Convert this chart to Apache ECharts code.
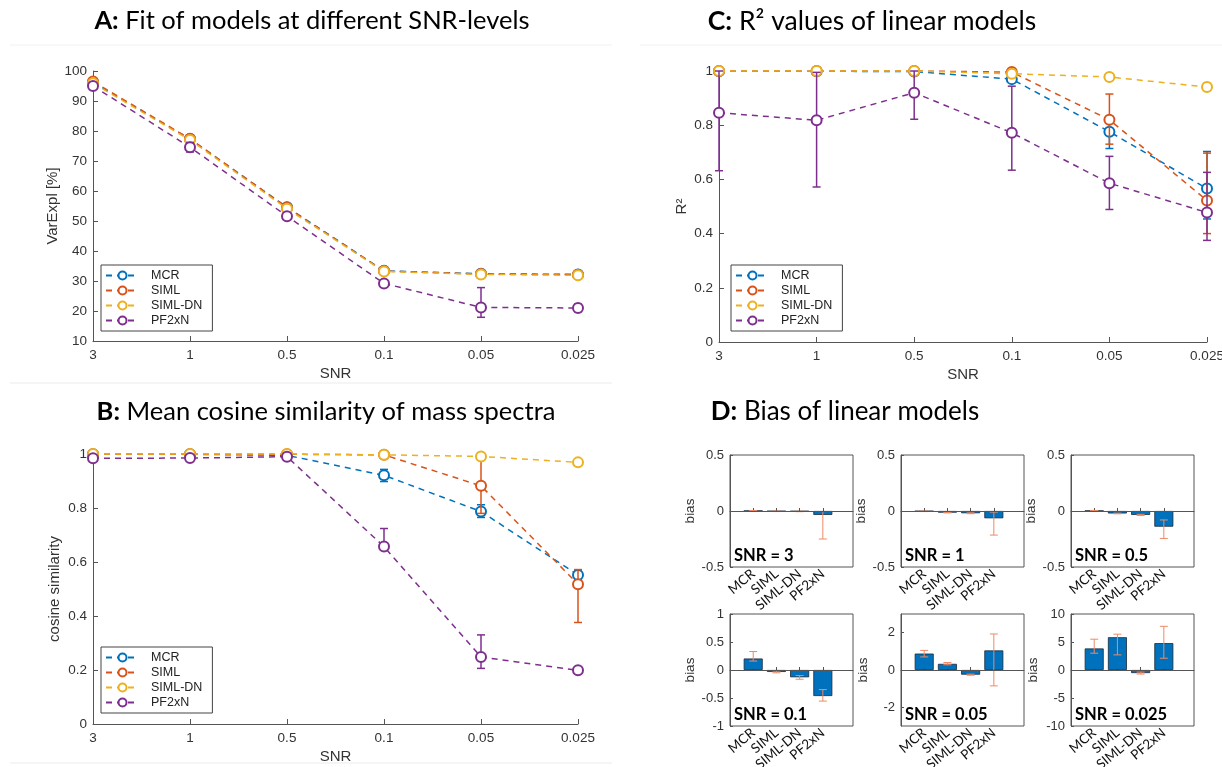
<!DOCTYPE html>
<html><head><meta charset="utf-8">
<script src="https://cdn.jsdelivr.net/npm/echarts@6/dist/echarts.min.js"></script>
<style>html,body{margin:0;padding:0;background:#fff}#c{width:1222px;height:767px}</style>
</head><body><div id="c"></div>
<script>
// ---------- DATA ----------
const snrLabels = ['3', '1', '0.5', '0.1', '0.05', '0.025'];
const modelNames = ['MCR', 'SIML', 'SIML-DN', 'PF2xN'];

// A: VarExpl [%]
const varExplMCR      = [96.2, 77.3, 54.6, 33.4, 32.4, 32.2];
const varExplMCRLow   = [95.8, 76.8, 54.2, 33.0, 32.0, 31.8];
const varExplMCRHigh  = [96.6, 77.8, 55.0, 33.8, 32.8, 32.6];
const varExplSIML     = [96.5, 77.4, 54.5, 33.3, 32.3, 32.1];
const varExplSIMLLow  = [96.1, 77.0, 54.1, 32.9, 31.9, 31.7];
const varExplSIMLHigh = [96.9, 77.8, 54.9, 33.7, 32.7, 32.5];
const varExplSIMLDN     = [95.9, 77.0, 54.1, 33.2, 32.2, 31.9];
const varExplSIMLDNLow  = [95.4, 76.5, 53.6, 32.7, 31.7, 31.4];
const varExplSIMLDNHigh = [96.4, 77.5, 54.6, 33.7, 32.7, 32.4];
const varExplPF2xN     = [95.0, 74.6, 51.6, 29.2, 21.2, 21.0];
const varExplPF2xNLow  = [94.4, 73.0, 50.8, 28.2, 17.9, 19.8];
const varExplPF2xNHigh = [95.6, 76.2, 52.4, 30.3, 27.8, 22.3];

// B: cosine similarity
const cosMCR      = [0.999, 0.999, 0.995, 0.921, 0.787, 0.552];
const cosMCRLow   = [0.997, 0.997, 0.990, 0.898, 0.765, 0.535];
const cosMCRHigh  = [1.000, 1.000, 1.000, 0.943, 0.812, 0.570];
const cosSIML     = [0.999, 0.999, 0.999, 0.997, 0.882, 0.518];
const cosSIMLLow  = [0.998, 0.998, 0.998, 0.994, 0.780, 0.376];
const cosSIMLHigh = [1.000, 1.000, 1.000, 1.000, 0.985, 0.572];
const cosSIMLDN     = [1.000, 1.000, 1.000, 0.997, 0.991, 0.969];
const cosSIMLDNLow  = [0.998, 0.998, 0.998, 0.994, 0.988, 0.964];
const cosSIMLDNHigh = [1.000, 1.000, 1.000, 1.000, 0.994, 0.974];
const cosPF2xN     = [0.984, 0.985, 0.990, 0.657, 0.248, 0.199];
const cosPF2xNLow  = [0.980, 0.981, 0.986, 0.655, 0.206, 0.192];
const cosPF2xNHigh = [0.988, 0.989, 0.994, 0.724, 0.330, 0.206];

// C: R2
const r2MCR      = [0.999, 0.999, 0.998, 0.970, 0.776, 0.566];
const r2MCRLow   = [0.998, 0.998, 0.996, 0.958, 0.714, 0.454];
const r2MCRHigh  = [1.000, 1.000, 1.000, 0.982, 0.832, 0.703];
const r2SIML     = [1.000, 1.000, 1.000, 0.996, 0.820, 0.522];
const r2SIMLLow  = [0.999, 0.999, 0.999, 0.990, 0.730, 0.400];
const r2SIMLHigh = [1.000, 1.000, 1.000, 1.000, 0.915, 0.697];
const r2SIMLDN     = [1.000, 1.000, 1.000, 0.990, 0.978, 0.941];
const r2SIMLDNLow  = [0.999, 0.999, 0.999, 0.986, 0.972, 0.930];
const r2SIMLDNHigh = [1.000, 1.000, 1.000, 0.994, 0.984, 0.955];
const r2PF2xN     = [0.846, 0.818, 0.920, 0.772, 0.586, 0.478];
const r2PF2xNLow  = [0.632, 0.572, 0.822, 0.634, 0.489, 0.375];
const r2PF2xNHigh = [1.000, 0.995, 1.000, 0.944, 0.685, 0.626];

// D: bias per SNR level (MCR, SIML, SIML-DN, PF2xN)
const bias3       = [0.002, -0.003, -0.004, -0.035];
const bias3Low    = [0.000, -0.005, -0.006, -0.250];
const bias3High   = [0.004, -0.001, -0.002, -0.005];
const bias1       = [-0.003, -0.015, -0.020, -0.065];
const bias1Low    = [-0.005, -0.017, -0.024, -0.215];
const bias1High   = [-0.001, -0.013, -0.016, -0.010];
const bias05      = [0.003, -0.022, -0.035, -0.140];
const bias05Low   = [0.001, -0.025, -0.040, -0.245];
const bias05High  = [0.005, -0.019, -0.030, -0.080];
const bias01      = [0.205, -0.035, -0.130, -0.465];
const bias01Low   = [0.160, -0.050, -0.165, -0.555];
const bias01High  = [0.330, -0.020, -0.100, -0.350];
const bias005     = [0.88, 0.33, -0.25, 1.05];
const bias005Low  = [0.70, 0.28, -0.28, -0.85];
const bias005High = [1.05, 0.40, -0.22, 1.93];
const bias0025     = [3.85, 5.85, -0.55, 4.80];
const bias0025Low  = [3.00, 2.70, -0.72, 2.10];
const bias0025High = [5.50, 6.40, -0.38, 7.80];
// D axis limits and tick values
const biasLimits = [0.5, 0.5, 0.5, 1, 3, 10];
const biasTicks = [[-0.5, 0, 0.5], [-0.5, 0, 0.5], [-0.5, 0, 0.5], [-1, -0.5, 0, 0.5, 1], [-2, 0, 2], [-10, -5, 0, 5, 10]];

// ---------- STYLE / LAYOUT ----------
const COLORS = ['#0072BD', '#D95319', '#EDB120', '#7E2F8E'];
const AX = '#555', TXT = '#333';
const FONT = '"Liberation Sans", Arial, sans-serif';
const TFONT = 'Lato, "Open Sans", sans-serif';

const linePanels = [
  {grid: {left: 93, top: 71, width: 485, height: 270}, min: 10, max: 100, interval: 10, yName: 'VarExpl [%]', yGap: 33,
   legend: [101, 265],
   mean: [varExplMCR, varExplSIML, varExplSIMLDN, varExplPF2xN],
   low: [varExplMCRLow, varExplSIMLLow, varExplSIMLDNLow, varExplPF2xNLow],
   high: [varExplMCRHigh, varExplSIMLHigh, varExplSIMLDNHigh, varExplPF2xNHigh]},
  {grid: {left: 93, top: 454, width: 485, height: 270}, min: 0, max: 1, interval: 0.2, yName: 'cosine similarity', yGap: 31,
   legend: [101, 647],
   mean: [cosMCR, cosSIML, cosSIMLDN, cosPF2xN],
   low: [cosMCRLow, cosSIMLLow, cosSIMLDNLow, cosPF2xNLow],
   high: [cosMCRHigh, cosSIMLHigh, cosSIMLDNHigh, cosPF2xNHigh]},
  {grid: {left: 719, top: 71, width: 488, height: 271}, min: 0, max: 1, interval: 0.2, yName: 'R²', yGap: 30,
   legend: [731, 265],
   mean: [r2MCR, r2SIML, r2SIMLDN, r2PF2xN],
   low: [r2MCRLow, r2SIMLLow, r2SIMLDNLow, r2PF2xNLow],
   high: [r2MCRHigh, r2SIMLHigh, r2SIMLDNHigh, r2PF2xNHigh]}
];

const biasMean = [bias3, bias1, bias05, bias01, bias005, bias0025];
const biasLow = [bias3Low, bias1Low, bias05Low, bias01Low, bias005Low, bias0025Low];
const biasHigh = [bias3High, bias1High, bias05High, bias01High, bias005High, bias0025High];
const dLefts = [730, 901, 1071];
const dTops = [455, 614];

function errRender(capHalf, width) {
  return function (params, api) {
    const x = api.value(0), lo = api.value(1), hi = api.value(2);
    const p1 = api.coord([x, lo]), p2 = api.coord([x, hi]);
    const style = {stroke: api.visual('color'), lineWidth: width, fill: null};
    return {type: 'group', children: [
      {type: 'line', shape: {x1: p1[0], y1: p1[1], x2: p2[0], y2: p2[1]}, style: style},
      {type: 'line', shape: {x1: p1[0] - capHalf, y1: p1[1], x2: p1[0] + capHalf, y2: p1[1]}, style: style},
      {type: 'line', shape: {x1: p2[0] - capHalf, y1: p2[1], x2: p2[0] + capHalf, y2: p2[1]}, style: style}
    ]};
  };
}

const grids = [], xAxes = [], yAxes = [], series = [], legends = [];
const titles = [
  {text: '{b|A:} Fit of models at different SNR-levels', left: 312, top: 8, size: 25.5},
  {text: '{b|B:} Mean cosine similarity of mass spectra', left: 326, top: 399, size: 25.5},
  {text: '{b|C:} R² values of linear models', left: 872, top: 8, size: 26.5},
  {text: '{b|D:} Bias of linear models', left: 845, top: 399, size: 26}
].map(t => ({text: t.text, left: t.left, top: t.top, textAlign: 'center', padding: 0,
  textStyle: {fontFamily: TFONT, fontSize: t.size, fontWeight: 'normal', color: '#000',
    rich: {b: {fontFamily: TFONT, fontSize: t.size, fontWeight: 'bold', color: '#000'}}}}));

linePanels.forEach((p, pi) => {
  grids.push(Object.assign({outerBoundsMode: 'none', containLabel: false}, p.grid));
  xAxes.push({type: 'category', gridIndex: pi, data: snrLabels, boundaryGap: false,
    name: 'SNR', nameLocation: 'middle', nameGap: 25,
    nameTextStyle: {fontFamily: FONT, fontSize: 15, color: TXT},
    axisLine: {lineStyle: {color: AX, width: 1}},
    axisTick: {inside: true, length: 5, lineStyle: {color: AX}},
    axisLabel: {fontFamily: FONT, fontSize: 13.5, color: TXT, margin: 7, showMaxLabel: true},
    splitLine: {show: false}});
  yAxes.push({type: 'value', gridIndex: pi, min: p.min, max: p.max, interval: p.interval,
    name: p.yName, nameLocation: 'middle', nameGap: p.yGap, nameRotate: 90,
    nameTextStyle: {fontFamily: FONT, fontSize: 15, color: TXT},
    axisLine: {show: true, lineStyle: {color: AX, width: 1}},
    axisTick: {show: true, inside: true, length: 5, lineStyle: {color: AX}},
    axisLabel: {fontFamily: FONT, fontSize: 13.5, color: TXT, margin: 6},
    splitLine: {show: false}});
  modelNames.forEach((m, mi) => {
    series.push({type: 'line', name: m, xAxisIndex: pi, yAxisIndex: pi, data: p.mean[mi],
      color: COLORS[mi], symbol: 'emptyCircle', symbolSize: 10, clip: false, z: 2 + mi,
      lineStyle: {type: [6, 5], width: 1.5}, itemStyle: {borderWidth: 1.4},
      emphasis: {disabled: true}, animation: false});
    series.push({type: 'custom', name: m + ' error', xAxisIndex: pi, yAxisIndex: pi,
      data: p.low[mi].map((lo, i) => [i, lo, p.high[mi][i]]),
      encode: {x: 0, y: [1, 2]}, color: COLORS[mi], z: 2 + mi, clip: false, silent: true,
      renderItem: errRender(4, 1.5), animation: false});
  });
  legends.push({data: modelNames, orient: 'vertical', left: p.legend[0], top: p.legend[1],
    itemWidth: 33, itemHeight: 10, itemGap: 2, selectedMode: false,
    borderColor: '#444', borderWidth: 1, backgroundColor: '#fff', borderRadius: 0,
    padding: [4, 10, 4, 4],
    textStyle: {fontFamily: FONT, fontSize: 12.5, color: '#222', padding: [0, 0, 0, 7]}});
});

biasMean.forEach((vals, k) => {
  const gi = 3 + k;
  const gx = dLefts[k % 3], gy = dTops[Math.floor(k / 3)];
  grids.push({left: gx, top: gy, width: 123, height: 112, show: true, borderColor: AX, borderWidth: 1,
    outerBoundsMode: 'none', containLabel: false});
  xAxes.push({type: 'value', gridIndex: gi, min: 0, max: 5.3,
    axisLine: {show: true, lineStyle: {color: AX}},
    axisTick: {show: true, inside: true, length: 3, customValues: [1, 2, 3, 4], lineStyle: {color: AX}},
    axisLabel: {customValues: [1, 2, 3, 4], formatter: v => modelNames[Math.round(v) - 1],
      rotate: 40, fontFamily: TFONT, fontSize: 13.5, color: '#111', margin: 5},
    splitLine: {show: false}});
  const lim = biasLimits[k];
  yAxes.push({type: 'value', gridIndex: gi, min: -lim, max: lim,
    name: 'bias', nameLocation: 'middle', nameGap: 31, nameRotate: 90,
    nameTextStyle: {fontFamily: FONT, fontSize: 13.5, color: TXT},
    axisLine: {show: true, lineStyle: {color: AX}},
    axisTick: {show: true, inside: true, length: 3, customValues: biasTicks[k], lineStyle: {color: AX}},
    axisLabel: {customValues: biasTicks[k], fontFamily: FONT, fontSize: 13, color: TXT, margin: 6},
    splitLine: {show: false}});
  series.push({type: 'bar', name: 'bias ' + snrLabels[k], xAxisIndex: gi, yAxisIndex: gi,
    data: vals.map((v, i) => [i + 1, v]), barWidth: 19,
    itemStyle: {color: '#0072BD', borderColor: '#1a2a3a', borderWidth: 0.8},
    emphasis: {disabled: true}, animation: false, z: 2,
    markLine: {silent: true, symbol: 'none', animation: false, label: {show: false},
      lineStyle: {color: '#555', width: 1, type: 'solid'}, data: [{yAxis: 0}]}});
  series.push({type: 'custom', name: 'bias error ' + snrLabels[k], xAxisIndex: gi, yAxisIndex: gi,
    data: biasLow[k].map((lo, i) => [i + 1, lo, biasHigh[k][i]]),
    encode: {x: 0, y: [1, 2]}, color: '#EE8A66', z: 4, silent: true, clip: false,
    renderItem: errRender(4, 1), animation: false});
  titles.push({text: 'SNR = ' + snrLabels[k], left: gx + 4, top: gy + 92, padding: 0,
    textStyle: {fontFamily: TFONT, fontSize: 16.5, fontWeight: 'bold', color: '#000'}});
});

const chart = echarts.init(document.getElementById('c'), null, {renderer: 'canvas'});
chart.setOption({
  backgroundColor: '#fff',
  animation: false,
  title: titles,
  legend: legends,
  grid: grids,
  xAxis: xAxes,
  yAxis: yAxes,
  series: series,
  graphic: [
    {type: 'line', shape: {x1: 10, y1: 45, x2: 612, y2: 45}, style: {stroke: '#f2f2f2', lineWidth: 1}, silent: true},
    {type: 'line', shape: {x1: 10, y1: 383, x2: 612, y2: 383}, style: {stroke: '#ebebeb', lineWidth: 1}, silent: true},
    {type: 'line', shape: {x1: 10, y1: 763, x2: 612, y2: 763}, style: {stroke: '#ebebeb', lineWidth: 1}, silent: true},
    {type: 'line', shape: {x1: 640, y1: 45, x2: 1222, y2: 45}, style: {stroke: '#f2f2f2', lineWidth: 1}, silent: true}
  ]
});
</script></body></html>
